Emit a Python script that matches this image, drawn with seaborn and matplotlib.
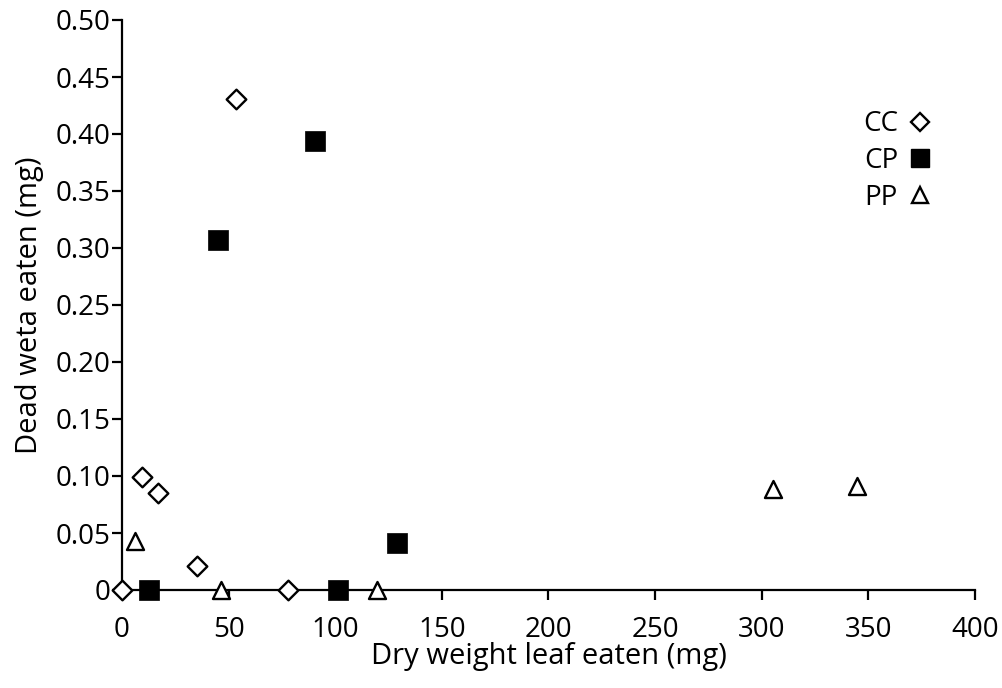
import matplotlib
matplotlib.use("Agg")
import matplotlib.pyplot as plt
import seaborn as sns
import pandas as pd
from matplotlib.ticker import FuncFormatter, MultipleLocator
from matplotlib.lines import Line2D

# Data
cc_x = [0, 9.5, 17, 35, 78, 53.5]
cc_y = [0, 0.099, 0.085, 0.021, 0, 0.431]
cp_x = [12.5, 45, 90.5, 101.5, 129]
cp_y = [0, 0.307, 0.394, 0, 0.041]
pp_x = [6, 46.5, 119.5, 305.5, 344.5]
pp_y = [0.043, 0, 0, 0.089, 0.091]

groups = ["CC", "CP", "PP"]

df = pd.concat([
    pd.DataFrame({"x": cc_x, "y": cc_y, "group": "CC"}),
    pd.DataFrame({"x": cp_x, "y": cp_y, "group": "CP"}),
    pd.DataFrame({"x": pp_x, "y": pp_y, "group": "PP"}),
], ignore_index=True)

sns.set_style("ticks")
plt.rcParams["font.family"] = ["Open Sans", "DejaVu Sans"]
plt.rcParams["text.color"] = "black"
plt.rcParams["axes.labelcolor"] = "black"
plt.rcParams["xtick.color"] = "black"
plt.rcParams["ytick.color"] = "black"

fig = plt.figure(figsize=(10.03, 6.88), dpi=100)
ax = fig.add_axes([122/1003, 1 - 590/688, (975-122)/1003, (590-20)/688])

styles = {
    "CC": dict(marker="D", s=100, facecolor="white", edgecolor="black", linewidth=1.7),
    "CP": dict(marker="s", s=190, facecolor="black", edgecolor="black", linewidth=0.5),
    "PP": dict(marker="^", s=150, facecolor="white", edgecolor="black", linewidth=1.7),
}

for g in groups:
    sub = df[df["group"] == g]
    st = styles[g]
    sns.scatterplot(data=sub, x="x", y="y", ax=ax, marker=st["marker"], s=st["s"],
                    color=st["facecolor"], edgecolor=st["edgecolor"],
                    linewidth=st["linewidth"], clip_on=False, zorder=3, legend=False)

ax.set_xlim(0, 400)
ax.set_ylim(0, 0.5)
ax.xaxis.set_major_locator(MultipleLocator(50))
ax.yaxis.set_major_locator(MultipleLocator(0.05))
ax.yaxis.set_major_formatter(FuncFormatter(lambda v, p: "0" if abs(v) < 1e-9 else f"{v:.2f}"))

for side in ["top", "right"]:
    ax.spines[side].set_visible(False)
for side in ["left", "bottom"]:
    ax.spines[side].set_linewidth(1.6)
    ax.spines[side].set_color("black")

ax.tick_params(axis="both", direction="out", length=7, width=1.6, labelsize=20,
               colors="black")
ax.tick_params(axis="x", pad=11.5)
ax.tick_params(axis="y", pad=1.5)

ax.set_xlabel("Dry weight leaf eaten (mg)", fontsize=21, labelpad=-1)
ax.set_ylabel("Dead weta eaten (mg)", fontsize=21, labelpad=8)

handles = [
    Line2D([], [], linestyle="none", marker="D", markersize=9, markerfacecolor="white",
           markeredgecolor="black", markeredgewidth=1.7),
    Line2D([], [], linestyle="none", marker="s", markersize=13, markerfacecolor="black",
           markeredgecolor="black"),
    Line2D([], [], linestyle="none", marker="^", markersize=11, markerfacecolor="white",
           markeredgecolor="black", markeredgewidth=1.7),
]
ax.legend(handles, groups, frameon=False, markerfirst=False, fontsize=20,
          loc="upper right", bbox_to_anchor=(0.965, 0.861), handletextpad=0.3,
          labelspacing=0.31, handlelength=1.0, borderaxespad=0)

fig.savefig("out.png", dpi=100, facecolor="white")
